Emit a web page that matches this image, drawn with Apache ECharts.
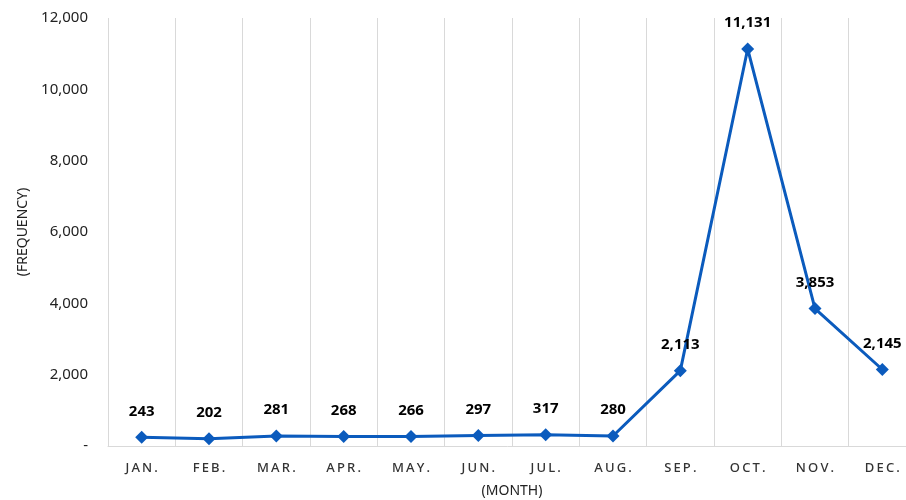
<!DOCTYPE html>
<html>
<head>
<meta charset="utf-8">
<script src="https://cdn.jsdelivr.net/npm/echarts@6/dist/echarts.min.js"></script>
<style>
html, body { margin: 0; padding: 0; background: #fff; }
#main { width: 906px; height: 500px; }
</style>
</head>
<body>
<div id="main"></div>
<script>
var months = ['JAN.', 'FEB.', 'MAR.', 'APR.', 'MAY.', 'JUN.', 'JUL.', 'AUG.', 'SEP.', 'OCT.', 'NOV.', 'DEC.'];
var frequency = [243, 202, 281, 268, 266, 297, 317, 280, 2113, 11131, 3853, 2145];
var yMax = 12000;
var yStep = 2000;

var myChart = echarts.init(document.getElementById('main'));

var option = {
    backgroundColor: '#fff',
    animation: false,
    grid: {
        left: 108,
        top: 18,
        width: 808,
        bottom: 54,
        outerBoundsMode: 'none',
        containLabel: false
    },
    xAxis: {
        type: 'category',
        data: months,
        boundaryGap: true,
        name: '(MONTH)',
        nameLocation: 'middle',
        nameGap: 38,
        nameTextStyle: { color: '#222', fontSize: 14, fontFamily: 'Noto Sans' },
        axisLine: { lineStyle: { color: '#d9d9d9' } },
        axisTick: { show: false },
        axisLabel: {
            color: '#333',
            fontSize: 13,
            fontWeight: 500,
            fontFamily: 'Noto Sans',
            margin: 16,
            formatter: function (v) { return v.split('').join('\u2009'); }
        },
        splitLine: { show: true, lineStyle: { color: '#d9d9d9' } }
    },
    yAxis: {
        type: 'value',
        min: 0,
        max: yMax,
        interval: yStep,
        name: '(FREQUENCY)',
        nameLocation: 'middle',
        nameGap: 78,
        nameTextStyle: { color: '#222', fontSize: 14, fontFamily: 'Noto Sans' },
        axisLine: { show: false },
        axisTick: { show: false },
        splitLine: { show: false },
        axisLabel: {
            color: '#222',
            fontSize: 15,
            fontFamily: 'Noto Sans',
            margin: 20,
            formatter: function (v) { return v === 0 ? '-' : v.toLocaleString('en-US'); }
        }
    },
    series: [
        {
            type: 'line',
            data: frequency,
            symbol: 'diamond',
            symbolSize: 13,
            lineStyle: { color: '#0b5bbd', width: 3 },
            itemStyle: { color: '#0b5bbd' },
            label: {
                show: true,
                position: 'top',
                distance: 12,
                color: '#000',
                fontSize: 15,
                fontWeight: 'bold',
                fontFamily: 'Noto Sans',
                formatter: function (p) { return p.value.toLocaleString('en-US'); }
            }
        }
    ]
};

myChart.setOption(option);
</script>
</body>
</html>
